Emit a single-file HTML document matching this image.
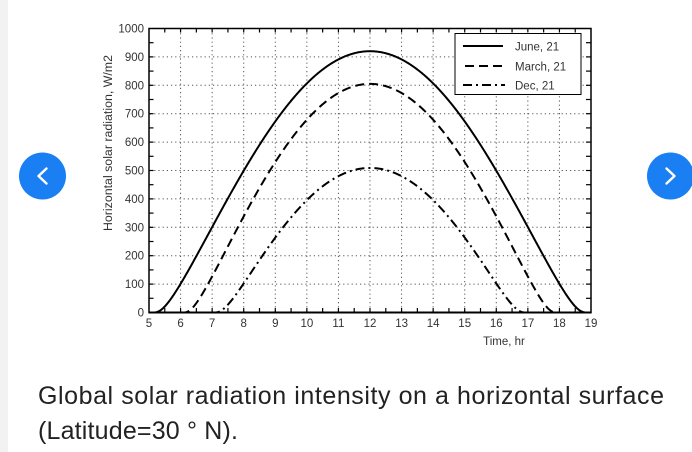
<!DOCTYPE html>
<html><head><meta charset="utf-8">
<style>
html,body{margin:0;padding:0;background:#fff;}
body{width:692px;height:452px;overflow:hidden;position:relative;}
svg{position:absolute;left:0;top:0;}
.t{font-family:"Liberation Sans",Arial,sans-serif;fill:#333;font-size:11.5px;}
.cap{font-family:"Liberation Sans",Arial,sans-serif;fill:#222;font-size:25px;}
</style></head>
<body>
<svg id="s" width="692" height="452" viewBox="0 0 692 452" xmlns="http://www.w3.org/2000/svg">
<rect x="0" y="0" width="692" height="452" fill="#fff"/>
<rect x="0" y="0" width="8" height="452" fill="#f2f2f2"/>
<g id="grid"></g>
<g id="curves"></g>
<rect x="149" y="28.5" width="442" height="284" fill="none" stroke="#000" stroke-width="1.5"/>
<line x1="148.5" y1="312.5" x2="591.5" y2="312.5" stroke="#000" stroke-width="2"/>
<g id="ticks"></g>
<!-- y tick labels -->
<g class="t" text-anchor="end">
<text x="144" y="32.5">1000</text>
<text x="144" y="60.9">900</text>
<text x="144" y="89.3">800</text>
<text x="144" y="117.7">700</text>
<text x="144" y="146.1">600</text>
<text x="144" y="174.5">500</text>
<text x="144" y="202.9">400</text>
<text x="144" y="231.3">300</text>
<text x="144" y="259.7">200</text>
<text x="144" y="288.1">100</text>
<text x="144" y="316.5">0</text>
</g>
<!-- x tick labels -->
<g class="t" text-anchor="middle">
<text x="149" y="327">5</text>
<text x="180.6" y="327">6</text>
<text x="212.1" y="327">7</text>
<text x="243.7" y="327">8</text>
<text x="275.3" y="327">9</text>
<text x="306.9" y="327">10</text>
<text x="338.4" y="327">11</text>
<text x="370" y="327">12</text>
<text x="401.6" y="327">13</text>
<text x="433.1" y="327">14</text>
<text x="464.7" y="327">15</text>
<text x="496.3" y="327">16</text>
<text x="527.9" y="327">17</text>
<text x="559.4" y="327">18</text>
<text x="591" y="327">19</text>
<text x="504" y="345">Time, hr</text>
</g>
<text class="t" font-size="12px" transform="translate(112,143) rotate(-90)" text-anchor="middle" textLength="176" lengthAdjust="spacingAndGlyphs">Horizontal solar radiation, W/m2</text>
<!-- legend -->
<rect x="455" y="33.5" width="126" height="61" fill="#fff" stroke="#000" stroke-width="1"/>
<line x1="463" y1="46" x2="503" y2="46" stroke="#000" stroke-width="2"/>
<line x1="465" y1="66" x2="503" y2="66" stroke="#000" stroke-width="2" stroke-dasharray="9 5"/>
<line x1="463" y1="85" x2="505" y2="85" stroke="#000" stroke-width="2" stroke-dasharray="9 4 2 4"/>
<g class="t" font-size="12.4px">
<text x="515" y="50.5">June, 21</text>
<text x="515" y="70.5">March, 21</text>
<text x="515" y="89.5">Dec, 21</text>
</g>
<!-- nav buttons -->
<circle cx="42.5" cy="176" r="23.5" fill="#1a7ff2"/>
<polyline points="46.5,168.5 38.5,176 46.5,183.5" fill="none" stroke="#fff" stroke-width="2.4" stroke-linecap="round" stroke-linejoin="round"/>
<circle cx="670.5" cy="176" r="23.5" fill="#1a7ff2"/>
<polyline points="666.5,168.5 674.5,176 666.5,183.5" fill="none" stroke="#fff" stroke-width="2.4" stroke-linecap="round" stroke-linejoin="round"/>
<!-- caption -->
<text class="cap" x="38" y="404" textLength="626" lengthAdjust="spacing">Global solar radiation intensity on a horizontal surface</text>
<text class="cap" x="38" y="439" textLength="200" lengthAdjust="spacing">(Latitude=30 ° N).</text>
</svg>
<script>
(function(){
var NS="http://www.w3.org/2000/svg";
var X0=149,PX=442/14,Y0=312.5,PY=0.284;
function X(t){return X0+(t-5)*PX;}
function Y(v){return Y0-v*PY;}
function el(p,n,a){var e=document.createElementNS(NS,n);for(var k in a)e.setAttribute(k,a[k]);p.appendChild(e);return e;}
var grid=document.getElementById('grid');
for(var h=6;h<=18;h++){var x=X(h);el(grid,'line',{x1:x,y1:29,x2:x,y2:312,stroke:'#555','stroke-width':1,'stroke-dasharray':'1.2 3'});}
for(var v=100;v<=900;v+=100){var y=Y(v);el(grid,'line',{x1:150,y1:y,x2:590,y2:y,stroke:'#555','stroke-width':1,'stroke-dasharray':'1.2 3'});}
var tk=document.getElementById('ticks');
for(var t=5.5;t<19;t+=0.5){var x=X(t);
 el(tk,'line',{x1:x,y1:28.5,x2:x,y2:32.5,stroke:'#000','stroke-width':1.2});
 el(tk,'line',{x1:x,y1:312.5,x2:x,y2:308,stroke:'#000','stroke-width':1.2});}
for(var v=50;v<1000;v+=50){var y=Y(v);
 el(tk,'line',{x1:149,y1:y,x2:153.5,y2:y,stroke:'#000','stroke-width':1.2});
 el(tk,'line',{x1:591,y1:y,x2:586,y2:y,stroke:'#000','stroke-width':1.2});}
var d2r=Math.PI/180,phi=30*d2r,k=0.15;
function sb(dec,hd){return Math.sin(phi)*Math.sin(dec*d2r)+Math.cos(phi)*Math.cos(dec*d2r)*Math.cos(hd*d2r);}
function f(s){return s>0?s*Math.exp(-k/s):0;}
var cv=document.getElementById('curves');
var series=[[23.45,920,''],[0,805,'9 5'],[-23.45,509,'9 4 2 4']];
series.forEach(function(sr){
 var C=sr[1]/f(sb(sr[0],0));var pts=[];
 for(var t=5;t<=19.0001;t+=0.02){var s=sb(sr[0],15*(t-12));
  if(s>-0.004){pts.push(X(t).toFixed(2)+','+Y(C*f(s)).toFixed(2));}}
 var a={d:'M'+pts.join('L'),fill:'none',stroke:'#000','stroke-width':2};
 if(sr[2])a['stroke-dasharray']=sr[2];
 el(cv,'path',a);
});
})();
</script>
</body></html>
